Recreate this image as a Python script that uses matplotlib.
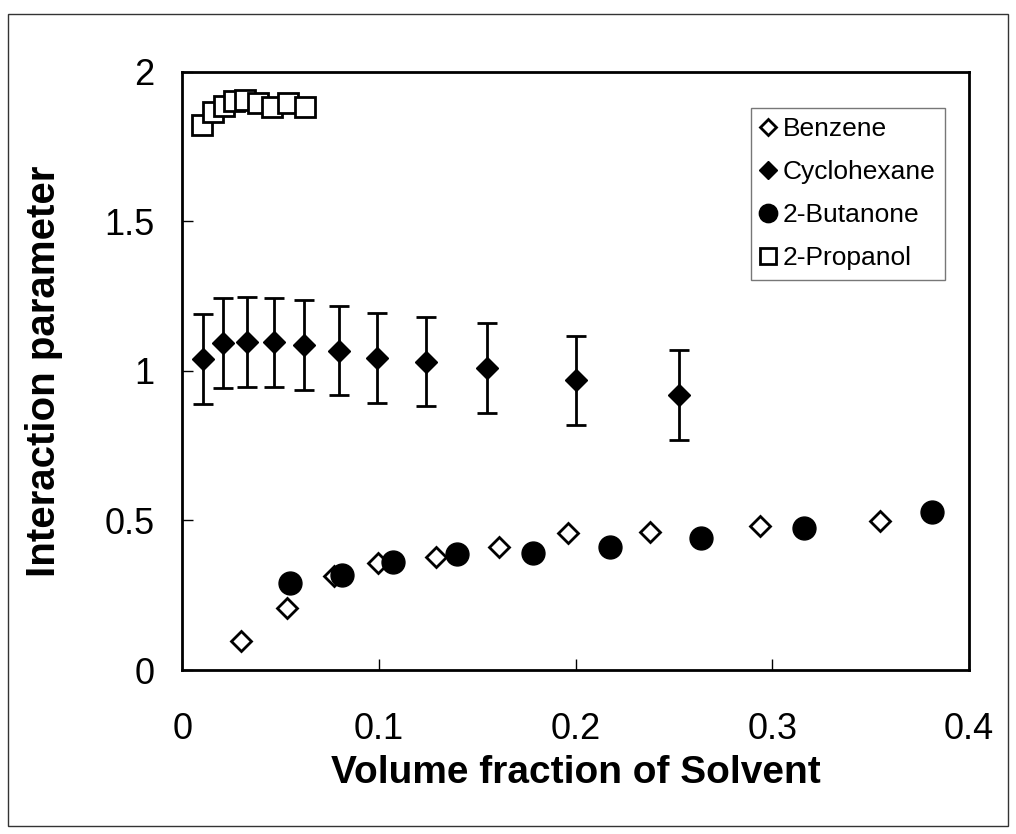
import matplotlib
matplotlib.use("Agg")
import matplotlib.pyplot as plt
from matplotlib.patches import Rectangle

plt.rcParams['font.family'] = ['Liberation Sans', 'DejaVu Sans']

# data
benzene_x = [0.030, 0.053, 0.077, 0.0996, 0.129, 0.161, 0.196, 0.238, 0.2935, 0.355]
benzene_y = [0.097, 0.206, 0.314, 0.357, 0.379, 0.412, 0.459, 0.463, 0.482, 0.498]

cyclo_x = [0.0106, 0.0208, 0.033, 0.0467, 0.0618, 0.0798, 0.0988, 0.1239, 0.1548, 0.200, 0.2524]
cyclo_y = [1.039, 1.093, 1.097, 1.095, 1.087, 1.068, 1.042, 1.031, 1.009, 0.968, 0.919]
cyclo_err = [0.15] * 11

butanone_x = [0.0549, 0.081, 0.1073, 0.1398, 0.1782, 0.2176, 0.2637, 0.316, 0.381]
butanone_y = [0.290, 0.318, 0.362, 0.387, 0.390, 0.412, 0.440, 0.474, 0.529]

propanol_x = [0.0097, 0.0157, 0.0212, 0.026, 0.0319, 0.0384, 0.0455, 0.0536, 0.0625]
propanol_y = [1.823, 1.866, 1.884, 1.902, 1.907, 1.895, 1.883, 1.894, 1.883]

fig = plt.figure(figsize=(10.16, 8.34), dpi=100)
ax = fig.add_axes([0.1796, 0.1966, 0.7741, 0.7174])

# error bars drawn separately so the legend shows only the marker
ax.errorbar(cyclo_x, cyclo_y, yerr=cyclo_err, fmt='none', ecolor='black',
            elinewidth=2, capsize=7, capthick=2, zorder=2)

ax.plot(benzene_x, benzene_y, 'D', ms=10, mfc='white', mec='black', mew=2,
        ls='none', label='Benzene', zorder=3)
ax.plot(cyclo_x, cyclo_y, 'D', ms=11.5, color='black', ls='none',
        label='Cyclohexane', zorder=3)
ax.plot(butanone_x, butanone_y, 'o', ms=16.5, color='black', ls='none',
        label='2-Butanone', zorder=4)
ax.plot(propanol_x, propanol_y, 's', ms=14, mfc='white', mec='black', mew=2,
        ls='none', label='2-Propanol', zorder=3)

ax.set_xlim(0, 0.4)
ax.set_ylim(0, 2)
ax.set_xticks([0, 0.1, 0.2, 0.3, 0.4])
ax.set_xticklabels(['0', '0.1', '0.2', '0.3', '0.4'])
ax.set_yticks([0, 0.5, 1, 1.5, 2])
ax.set_yticklabels(['0', '0.5', '1', '1.5', '2'])
ax.tick_params(direction='in', length=8, width=1, labelsize=26)
ax.tick_params(axis='x', pad=30)
ax.tick_params(axis='y', pad=20)
for s in ax.spines.values():
    s.set_linewidth(2)

ax.set_xlabel('Volume fraction of Solvent', fontsize=28, fontweight='bold', labelpad=6)
ax.set_ylabel('Interaction parameter', fontsize=29, fontweight='bold', labelpad=30)

leg = ax.legend(loc='upper right', bbox_to_anchor=(0.9695, 0.939), fontsize=19,
                markerscale=0.8, handlelength=0.6, handletextpad=0.25,
                labelspacing=0.72, borderpad=0.35, borderaxespad=0,
                frameon=True, fancybox=False, edgecolor='#555555', numpoints=1)
leg.get_frame().set_linewidth(1)

# outer frame
fig.patches.append(Rectangle((8 / 1016, 8 / 834), 1000 / 1016, 812 / 834,
                             transform=fig.transFigure, fill=False,
                             edgecolor='#333333', linewidth=1))

fig.savefig('out.png', dpi=100)
